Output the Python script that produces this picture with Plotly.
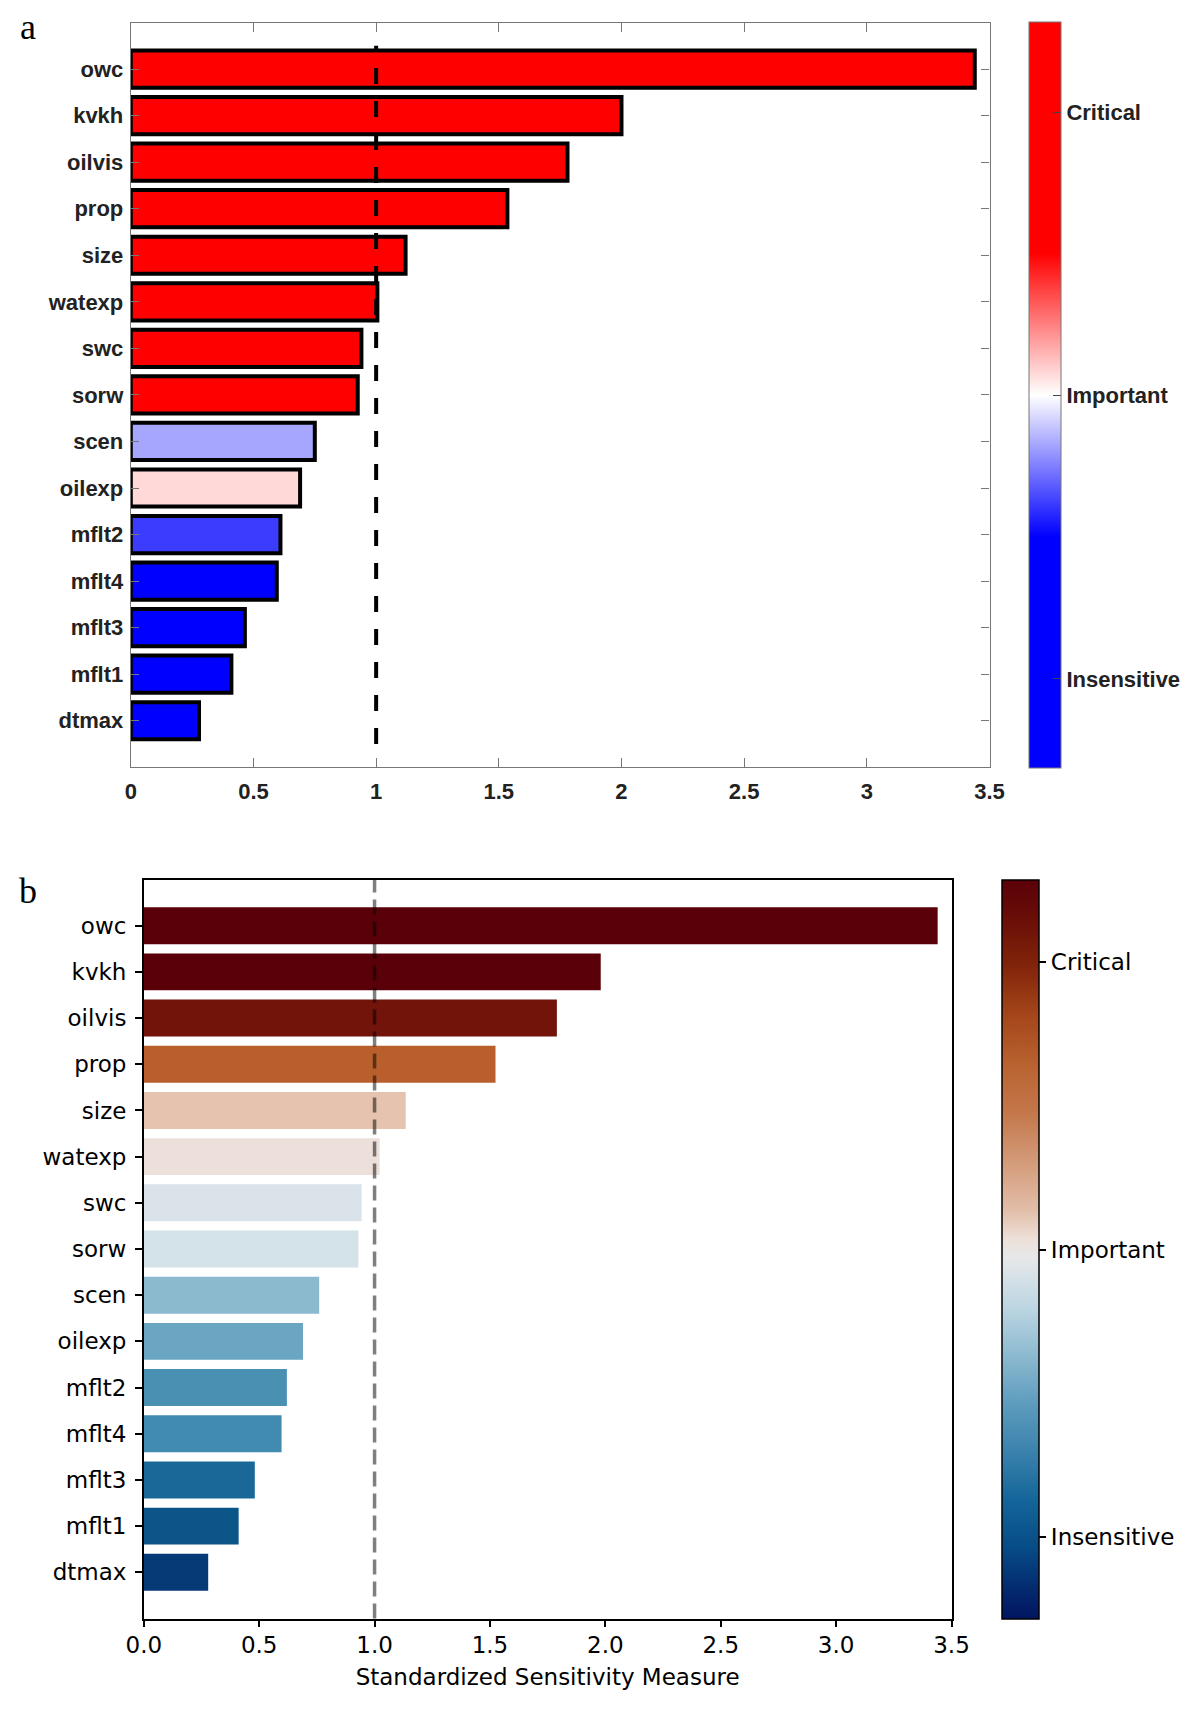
import plotly.graph_objects as go

# parameters, top to bottom
params = ["owc", "kvkh", "oilvis", "prop", "size", "watexp", "swc", "sorw",
          "scen", "oilexp", "mflt2", "mflt4", "mflt3", "mflt1", "dtmax"]

# standardized sensitivity, panel a (MATLAB) and panel b (python)
sens_a = [3.44, 2.00, 1.78, 1.535, 1.12, 1.005, 0.94, 0.925,
          0.75, 0.69, 0.61, 0.595, 0.465, 0.41, 0.278]
sens_b = [3.44, 1.98, 1.79, 1.524, 1.135, 1.022, 0.944, 0.93,
          0.76, 0.69, 0.62, 0.597, 0.481, 0.411, 0.279]

colors_a = ["#FF0000"] * 8 + ["#A6A6FF", "#FFD8D8", "#3C3CFF",
                              "#0000FF", "#0000FF", "#0000FF", "#0000FF"]
colors_b = ["#5A0008", "#5A0008", "#72140A", "#B85F2C", "#E5C3AE",
            "#EDE0DB", "#DAE3EA", "#D4E2E9", "#8BB9CE", "#6AA5C2",
            "#4A90B3", "#418AB0", "#1A6897", "#0C5588", "#053A77"]

cb_labels = ["Insensitive", "Important", "Critical"]
cb_ticks_a = [0.12, 0.5, 0.88]
cb_ticks_b = [0.111, 0.5, 0.889]
x_ticks = [0, 0.5, 1, 1.5, 2, 2.5, 3, 3.5]
threshold = 1.0

bwr = [[0, "#0000FF"], [0.31, "#0000FF"], [0.5, "#FFFFFF"],
       [0.69, "#FF0000"], [1, "#FF0000"]]
vik = [[0.0, "#011560"], [0.03, "#03246A"], [0.095, "#064B85"],
       [0.161, "#14659A"], [0.226, "#3A82AC"], [0.292, "#5E9CBE"],
       [0.357, "#8DBAD0"], [0.423, "#BED6E2"], [0.489, "#E6E8EA"],
       [0.515, "#EDE0D8"], [0.554, "#E2BDA8"], [0.62, "#D39A78"],
       [0.685, "#C4774B"], [0.751, "#B8622F"], [0.817, "#A4461A"],
       [0.882, "#82250A"], [0.948, "#6A0E08"], [1.0, "#5A0008"]]

# the page has an 8px body margin, so the figure sits at (8, 8)
OFF = 8
W, H = 1200 - OFF, 1709 - OFF
px = lambda v: (v - OFF) / W
py = lambda v: 1 - (v - OFF) / H

bold_a = dict(family="Liberation Sans", size=22, color="#222222", weight="bold")
font_b = dict(family="DejaVu Sans", size=23, color="black")

fig = go.Figure()

# ---- panel a ----
fig.add_trace(go.Bar(
    x=sens_a, y=params, orientation="h", width=0.8,
    marker=dict(color=colors_a, line=dict(color="black", width=4)),
    xaxis="x", yaxis="y", showlegend=False, hoverinfo="x+y"))
fig.add_trace(go.Scatter(
    x=sens_a, y=params, mode="markers", xaxis="x", yaxis="y",
    showlegend=False, hoverinfo="skip",
    marker=dict(size=0, opacity=0, color=cb_ticks_a, cmin=0, cmax=1,
                colorscale=bwr, showscale=True,
                colorbar=dict(x=px(1029), xanchor="left", xpad=0, ypad=0,
                              y=py(22.5), yanchor="top", len=(768 - 22.5) / H,
                              thickness=32, outlinecolor="#777777", outlinewidth=1,
                              tickvals=cb_ticks_a, ticktext=cb_labels,
                              ticks="inside", ticklen=8, tickcolor="#444444",
                              tickfont=bold_a))))

# ---- panel b ----
fig.add_trace(go.Bar(
    x=sens_b, y=params, orientation="h", width=0.8,
    marker=dict(color=colors_b, line=dict(width=0)),
    xaxis="x2", yaxis="y2", showlegend=False, hoverinfo="x+y"))
fig.add_trace(go.Scatter(
    x=sens_b, y=params, mode="markers", xaxis="x2", yaxis="y2",
    showlegend=False, hoverinfo="skip",
    marker=dict(size=0, opacity=0, color=cb_ticks_b, cmin=0, cmax=1,
                colorscale=vik, showscale=True,
                colorbar=dict(x=px(1001.7), xanchor="left", xpad=0, ypad=0,
                              y=py(880), yanchor="top", len=(1619 - 880) / H,
                              thickness=37, outlinecolor="black", outlinewidth=1.5,
                              tickvals=cb_ticks_b, ticktext=cb_labels,
                              ticks="outside", ticklen=7, tickwidth=1.5,
                              tickcolor="black", tickfont=font_b))))

# threshold lines
fig.add_shape(type="line", xref="x", yref="y", x0=threshold, x1=threshold,
              y0=14.5, y1=-0.5, line=dict(color="black", width=4, dash="16px,17px"))
fig.add_shape(type="line", xref="x2", yref="y2 domain", x0=threshold, x1=threshold,
              y0=0, y1=1, line=dict(color="rgba(0,0,0,0.5)", width=3.5, dash="15px,7px"))

fig.update_layout(
    width=W, height=H, margin=dict(l=0, r=0, t=0, b=0, autoexpand=False),
    paper_bgcolor="white", plot_bgcolor="white", bargap=0.2,
    xaxis=dict(domain=[px(130.8), px(989.5)], anchor="y", range=[0, 3.5],
               automargin=False, tickvals=x_ticks, showline=True, mirror="ticks",
               linecolor="#777777", linewidth=1.2, ticks="inside", ticklen=9,
               tickcolor="#777777", showgrid=False, zeroline=False,
               ticklabelstandoff=4, tickfont=bold_a),
    yaxis=dict(domain=[py(767.3), py(22.5)], anchor="x", range=[15, -1],
               automargin=False, showline=True, mirror="ticks",
               linecolor="#777777", linewidth=1.2, ticks="inside", ticklen=8,
               tickcolor="#777777", showgrid=False, ticklabelstandoff=2,
               tickfont=bold_a),
    xaxis2=dict(domain=[px(143.8), px(951.5)], anchor="y2", range=[0, 3.5],
                automargin=False, tickvals=x_ticks, tickformat=".1f",
                showline=True, mirror=True, linecolor="black", linewidth=1.6,
                ticks="outside", ticklen=7, tickwidth=1.5, tickcolor="black",
                showgrid=False, zeroline=False, tickfont=font_b,
                ticklabelstandoff=-2,
                title=dict(text="Standardized Sensitivity Measure", font=font_b,
                           standoff=12)),
    yaxis2=dict(domain=[py(1618.5), py(879.5)], anchor="x2", range=[15, -1],
                automargin=False, showline=True, mirror=True, linecolor="black",
                linewidth=1.6, ticks="outside", ticklen=7, tickwidth=1.5,
                tickcolor="black", showgrid=False, ticklabelstandoff=4,
                tickfont=font_b),
    annotations=[
        dict(text="a", x=px(27.5), y=py(27), xref="paper", yref="paper",
             showarrow=False, xanchor="center", yanchor="middle",
             font=dict(family="Liberation Serif", size=36, color="black")),
        dict(text="b", x=px(28), y=py(891), xref="paper", yref="paper",
             showarrow=False, xanchor="center", yanchor="middle",
             font=dict(family="Liberation Serif", size=36, color="black")),
    ],
)

fig.write_html("out.html")
